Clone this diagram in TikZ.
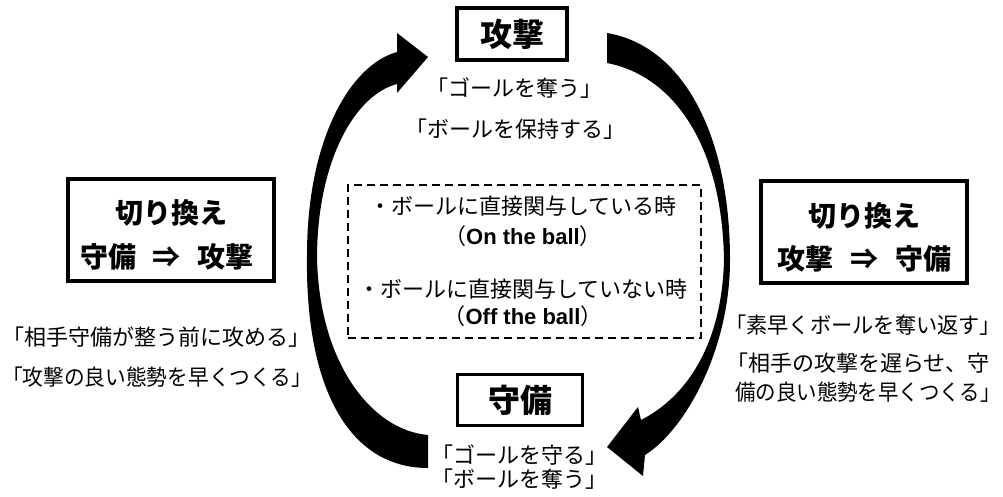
\documentclass[tikz,border=0pt]{standalone}
\usepackage{fontspec}
\setmainfont{Liberation Sans}
\newfontfamily\jp{Noto Sans CJK JP}
\begin{document}
\begin{tikzpicture}[x=1pt,y=-1pt,
  titlebox/.style={draw,line width=3.5pt,inner sep=0pt,font=\jp\bfseries\fontsize{32}{36}\selectfont},
  sidebox/.style={draw,line width=3.5pt,inner sep=0pt,minimum width=206pt,minimum height=102pt},
  sidetitle/.style={font=\jp\bfseries\fontsize{28}{30}\selectfont,inner sep=0pt},
  body/.style={font=\jp\fontsize{22}{26}\selectfont,inner sep=0pt},
  narrow/.style={font=\jp\fontsize{22}{26}\selectfont\addfontfeature{FakeStretch=#1},inner sep=0pt},
  dbox/.style={draw,line width=2pt,dash pattern=on 8pt off 5pt,inner sep=0pt},
  bigarrow/.style={fill=black,draw=none}]
\useasboundingbox (0,0) rectangle (1003,497);
\fill[white] (0,0) rectangle (1003,497);

% cycle arrows
\fill[bigarrow] (428,435) -- (428,468) .. controls (350,468) and (305,390) .. (307,255)
  .. controls (307,140) and (350,65) .. (397,52) -- (397,33) -- (428,57) -- (397,93) -- (397,84)
  .. controls (355,95) and (318,160) .. (317,255)
  .. controls (318,360) and (370,430) .. (428,435) -- cycle;
\fill[bigarrow] (607,33) .. controls (680,45) and (730,130) .. (730,260)
  .. controls (730,350) and (685,430) .. (645,455) -- (643,476) -- (607,447) -- (638,407) -- (641,420)
  .. controls (690,395) and (722,340) .. (724,260)
  .. controls (722,140) and (670,75) .. (607,63) -- cycle;

% top
\node[titlebox,minimum width=110pt,minimum height=52pt] (atk) at (512,34) {攻撃};
\node[body] (atk1) at (514,88) {「ゴールを奪う」};
\node[body] (atk2) at (515,129) {「ボールを保持する」};

% middle dashed box
\node[dbox,minimum width=353pt,minimum height=153pt] (mid) at (524,261.5) {};
\node[body] (on1) at (523,206) {・ボールに直接関与している時};
\node[body] (on2) at (523,236) {（{\bfseries\rmfamily On the ball}）};
\node[body] (off1) at (523,289) {・ボールに直接関与していない時};
\node[body] (off2) at (523,316) {（{\bfseries\rmfamily Off the ball}）};

% left
\node[sidebox] (lbox) at (171,230) {};
\node[sidetitle] (lt1) at (171,213) {切り換え};
\node[sidetitle] (lt2) at (167,257) {守備\hspace{17pt}⇒\hspace{17pt}攻撃};
\node[body,anchor=west] (l1) at (2,337) {「相手守備が整う前に攻める」};
\node[narrow=0.94,anchor=west] (l2) at (2,377) {「攻撃の良い態勢を早くつくる」};

% right
\node[sidebox] (rbox) at (864,232) {};
\node[sidetitle] (rt1) at (864,216) {切り換え};
\node[sidetitle] (rt2) at (864,259) {攻撃\hspace{17pt}⇒\hspace{17pt}守備};
\node[narrow=0.965,anchor=west] (r1) at (725,325) {「素早くボールを奪い返す」};
\node[body,anchor=west] (r2) at (726,363) {「相手の攻撃を遅らせ、守};
\node[narrow=0.93,anchor=west] (r3) at (735,392) {備の良い態勢を早くつくる」};

% bottom
\node[titlebox,minimum width=125pt,minimum height=51pt] (def) at (520,400) {守備};
\node[body] (def1) at (519,455) {「ゴールを守る」};
\node[body] (def2) at (519,479) {「ボールを奪う」};
\end{tikzpicture}
\end{document}
